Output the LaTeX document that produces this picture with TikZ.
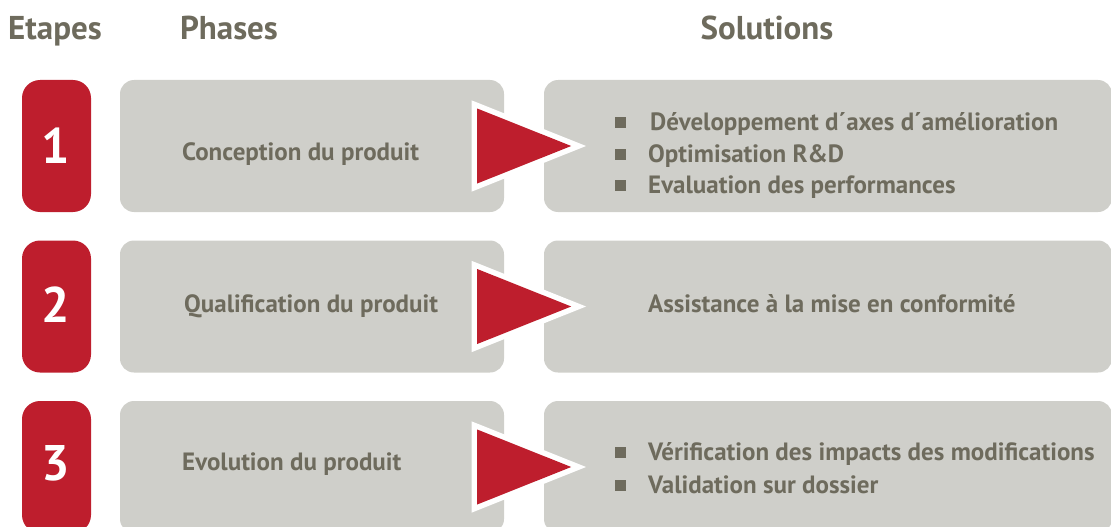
\documentclass[tikz,border=0pt]{standalone}
\usepackage{fontspec}
\setmainfont{PT Sans}
\usetikzlibrary{positioning}
\usetikzlibrary{calc}

\definecolor{etapered}{HTML}{BE1E2D}
\definecolor{boxgray}{HTML}{CFCFCA}
\definecolor{textgray}{HTML}{6E6B5D}

\begin{document}
\begin{tikzpicture} [x=1pt, y=-1pt,
          etape/.style = {fill=etapered, rounded corners=18pt, minimum width=69pt, minimum height=132pt, inner sep=0pt},
          phase/.style = {fill=boxgray, rounded corners=14pt, minimum width=384pt, minimum height=132pt, inner sep=0pt},
          solution/.style = {fill=boxgray, rounded corners=14pt, minimum width=568pt, minimum height=132pt, inner sep=0pt},
          header/.style = {text=textgray, font=\fontsize{33}{36}\selectfont\bfseries, anchor=base},
          number/.style = {text=white, font=\fontsize{50}{52}\selectfont\bfseries, anchor=base},
          label/.style = {text=textgray, font=\fontsize{25}{28}\selectfont\bfseries, anchor=base west, inner sep=0pt},
          puce/.style = {fill=textgray, minimum size=11pt, inner sep=0pt},
          fleche/.style = {fill=etapered, preaction={draw=white, line width=11pt, line join=miter}}
          ]
          \useasboundingbox (0,0) rectangle (1111,527);
          \clip (0,0) rectangle (1111,527);

          % titres
          \node[header] (tetapes) at (55,40) {Etapes};
          \node[header] (tphases) at (229,40) {Phases};
          \node[header] (tsolutions) at (767,40) {Solutions};

          % etape 1
          \node[etape] (e1) at (56.5,146) {};
          \node[number] (n1) at (56,163) {1};
          \node[phase] (ph1) at (312,146) {};
          \node[label] (l1) at (182,160) {Conception du produit};
          \node[solution] (so1) at (828,146) {};
          \fill[fleche] ($(ph1.east)+(-27,-37.5)$) -- ($(ph1.east)+(-27,37.5)$) -- ($(ph1.east)+(67,0)$) -- cycle;
          \node[puce] (b11) at (620,122) {};
          \node[puce] (b12) at (620,154) {};
          \node[puce] (b13) at (620,185) {};
          \node[label] (s11) at (650,130) {Développement d´axes d´amélioration};
          \node[label] (s12) at (648,162) {Optimisation R\&D};
          \node[label] (s13) at (648,193) {Evaluation des performances};

          % etape 2
          \node[etape] (e2) at (56.5,306.5) {};
          \node[number] (n2) at (56,322) {2};
          \node[phase] (ph2) at (312,306.5) {};
          \node[label] (l2) at (184,312) {Qualification du produit};
          \node[solution] (so2) at (828,306.5) {};
          \fill[fleche] ($(ph2.east)+(-27,-37.5)$) -- ($(ph2.east)+(-27,37.5)$) -- ($(ph2.east)+(67,0)$) -- cycle;
          \node[label] (s21) at (648,312) {Assistance à la mise en conformité};

          % etape 3
          \node[etape] (e3) at (56.5,467) {};
          \node[number] (n3) at (56,480) {3};
          \node[phase] (ph3) at (312,467) {};
          \node[label] (l3) at (182,470) {Evolution du produit};
          \node[solution] (so3) at (828,467) {};
          \fill[fleche] ($(ph3.east)+(-27,-37.5)$) -- ($(ph3.east)+(-27,37.5)$) -- ($(ph3.east)+(67,0)$) -- cycle;
          \node[puce] (b31) at (620,452) {};
          \node[puce] (b32) at (620,485) {};
          \node[label] (s31) at (648,460) {Vérification des impacts des modifications};
          \node[label] (s32) at (648,493) {Validation sur dossier};
        \end{tikzpicture}
\end{document}
